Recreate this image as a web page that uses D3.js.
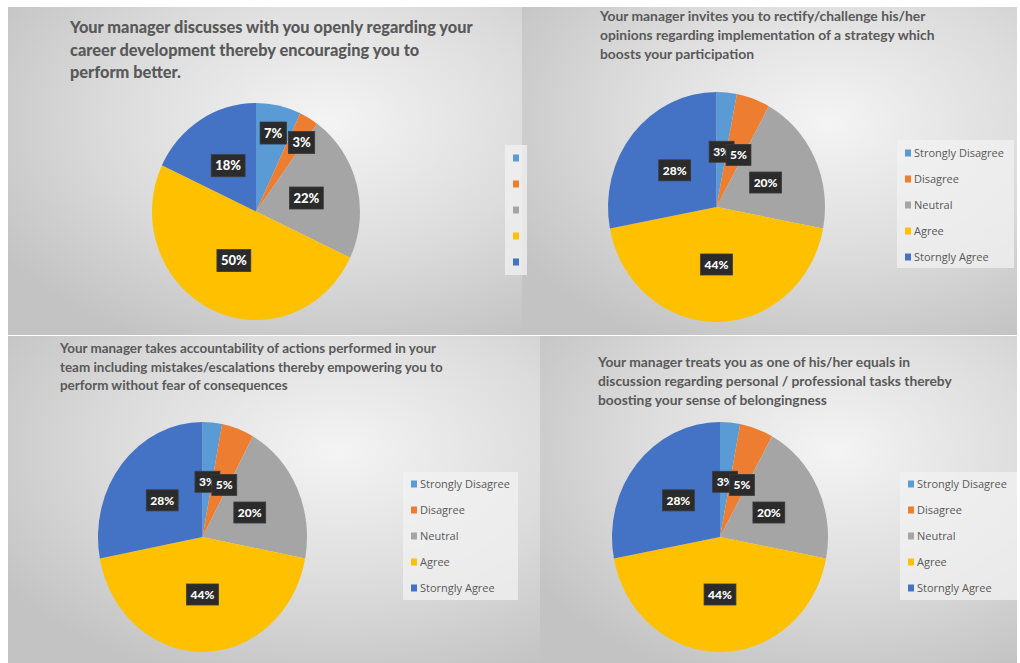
<!DOCTYPE html>
<html>
<head>
  <meta charset="utf-8">
  <title>Manager survey pies</title>
  <script src="https://cdn.jsdelivr.net/npm/d3@7/dist/d3.min.js"></script>
  <style>
    body { margin: 0; background: #fff; }
    svg { display: block; }
  </style>
</head>
<body>
  <svg width="1020" height="663"></svg>

  <script>
    // data
    const categories = ["Strongly Disagree", "Disagree", "Neutral", "Agree", "Storngly Agree"];
    const careerValues = [7, 3, 22, 50, 18];
    const challengeValues = [3, 5, 20, 44, 28];
    const accountabilityValues = [3, 5, 20, 44, 28];
    const equalsValues = [3, 5, 20, 44, 28];

    const careerTitle = ["Your manager discusses with you openly regarding your",
      "career development thereby encouraging you to", "perform better."];
    const challengeTitle = ["Your manager invites you to rectify/challenge his/her",
      "opinions regarding implementation of a strategy which", "boosts your participation"];
    const accountabilityTitle = ["Your manager takes accountability of actions performed in your",
      "team including mistakes/escalations thereby empowering you to", "perform without fear of consequences"];
    const equalsTitle = ["Your manager treats you as one of his/her equals in",
      "discussion regarding personal / professional tasks thereby", "boosting your sense of belongingness"];

    const colors = ["#5b9bd5", "#ed7d31", "#a5a5a5", "#ffc000", "#4472c4"];

    const svg = d3.select("svg");
    const defs = svg.append("defs");

    const grad = defs.append("radialGradient").attr("id", "bg")
      .attr("cx", "62%").attr("cy", "35%").attr("r", "75%");
    grad.append("stop").attr("offset", "0%").attr("stop-color", "#f4f4f4");
    grad.append("stop").attr("offset", "55%").attr("stop-color", "#dcdcdc");
    grad.append("stop").attr("offset", "100%").attr("stop-color", "#c3c3c3");

    const panels = [
      { values: careerValues, title: careerTitle, box: [8, 7, 514, 328],
        titleX: 70, titleY: 33, titleW: 403, lineH: 22.5, weight: 900,
        cx: 256, cy: 211.5, rx: 104, ry: 108.5, smallR: 0.76, labelFont: 13, overlap: -2,
        legend: { x: 505, y: 145, w: 22, h: 130, step: 26, first: 13, text: false } },
      { values: challengeValues, title: challengeTitle, box: [522, 7, 495, 328],
        titleX: 600, titleY: 21, titleW: 335, lineH: 19, weight: "bold",
        cx: 716.5, cy: 207, rx: 108.5, ry: 115, smallR: 0.5, labelFont: 12, overlap: 8,
        legend: { x: 897, y: 140, w: 117, h: 128, step: 26, first: 13, text: true } },
      { values: accountabilityValues, title: accountabilityTitle, box: [8, 336, 532, 327],
        titleX: 60, titleY: 353, titleW: 383, lineH: 18.5, weight: "bold",
        cx: 202.5, cy: 537, rx: 104.5, ry: 115, smallR: 0.5, labelFont: 12, overlap: 8,
        legend: { x: 403, y: 472, w: 115, h: 128, step: 26, first: 12, text: true } },
      { values: equalsValues, title: equalsTitle, box: [540, 336, 477, 327],
        titleX: 598, titleY: 367, titleW: 354, lineH: 19, weight: "bold",
        cx: 720, cy: 537, rx: 108, ry: 115, smallR: 0.5, labelFont: 12, overlap: 8,
        legend: { x: 900, y: 472, w: 117, h: 128, step: 26, first: 12, text: true } }
    ];

    panels.forEach(p => {
      const [bx, by, bw, bh] = p.box;
      svg.append("rect").attr("x", bx).attr("y", by).attr("width", bw).attr("height", bh)
        .attr("fill", "url(#bg)");
    });

    panels.forEach(p => drawPanel(p));

    function drawPanel(p) {
      const g = svg.append("g");

      // title, sized so the longest line fits the measured width
      const title = g.append("text")
        .attr("font-family", "Lato, 'Open Sans', sans-serif")
        .attr("font-weight", p.weight).attr("fill", "#595959")
        .attr("font-size", 16);
      p.title.forEach((line, i) => {
        title.append("tspan").attr("x", p.titleX).attr("y", p.titleY + i * p.lineH).text(line);
      });
      const widest = d3.max(title.selectAll("tspan").nodes(), n => n.getComputedTextLength());
      title.attr("font-size", 16 * p.titleW / widest);

      // pie
      const pie = d3.pie().sort(null).value(d => d)
        .startAngle(0).endAngle(2 * Math.PI);
      const arcs = pie(p.values);
      const arc = d3.arc().innerRadius(0).outerRadius(p.rx);
      const k = p.ry / p.rx;

      g.append("g")
        .attr("transform", `translate(${p.cx},${p.cy}) scale(1,${k})`)
        .selectAll("path").data(arcs).join("path")
        .attr("d", arc)
        .attr("fill", (d, i) => colors[i]);

      // data labels (a label that overlaps the previous one is pushed right)
      const total = d3.sum(p.values);
      const lab = g.append("g");
      let prev = null;
      arcs.forEach((d, i) => {
        const share = d.value / total;
        const mid = (d.startAngle + d.endAngle) / 2;
        const rr = (share < 0.1 ? p.smallR : 0.5) * p.rx;
        let x = p.cx + rr * Math.sin(mid);
        const y = p.cy - rr * Math.cos(mid) * k + (share < 0.1 ? 2 : 0);
        const txt = d3.format(".0%")(share);
        const t = lab.append("text")
          .attr("font-family", "Lato, 'Open Sans', sans-serif")
          .attr("font-weight", 900).attr("font-size", p.labelFont)
          .attr("fill", "#fff").attr("text-anchor", "middle")
          .text(txt);
        const w = t.node().getComputedTextLength() + 8;
        const h = p.labelFont + 9;
        if (prev && Math.abs(prev.y - y) < h && x - w / 2 < prev.x + prev.w / 2 && x > prev.x - prev.w / 2) {
          x = prev.x + prev.w / 2 - p.overlap + w / 2;
        }
        prev = { x, y, w };
        lab.insert("rect", () => t.node())
          .attr("x", x - w / 2).attr("y", y - h / 2).attr("width", w).attr("height", h)
          .attr("fill", "#2b2b2b").attr("stroke", "#3a3a3a").attr("stroke-width", 0.8);
        t.attr("x", x).attr("y", y + p.labelFont * 0.36);
      });

      // legend
      const L = p.legend;
      g.append("rect").attr("x", L.x).attr("y", L.y).attr("width", L.w).attr("height", L.h)
        .attr("fill", "#f2f2f2").attr("fill-opacity", 0.75);
      categories.forEach((c, i) => {
        const yy = L.y + L.first + i * L.step;
        const mx = L.x + 8;
        g.append("rect").attr("x", mx).attr("y", yy - 3.5).attr("width", 6).attr("height", 7)
          .attr("fill", colors[i]);
        if (L.text) {
          g.append("text").attr("x", mx + 9).attr("y", yy + 4)
            .attr("font-family", "'Open Sans', sans-serif").attr("font-size", 11)
            .attr("fill", "#595959").text(c);
        }
      });
    }
  </script>
</body>
</html>
